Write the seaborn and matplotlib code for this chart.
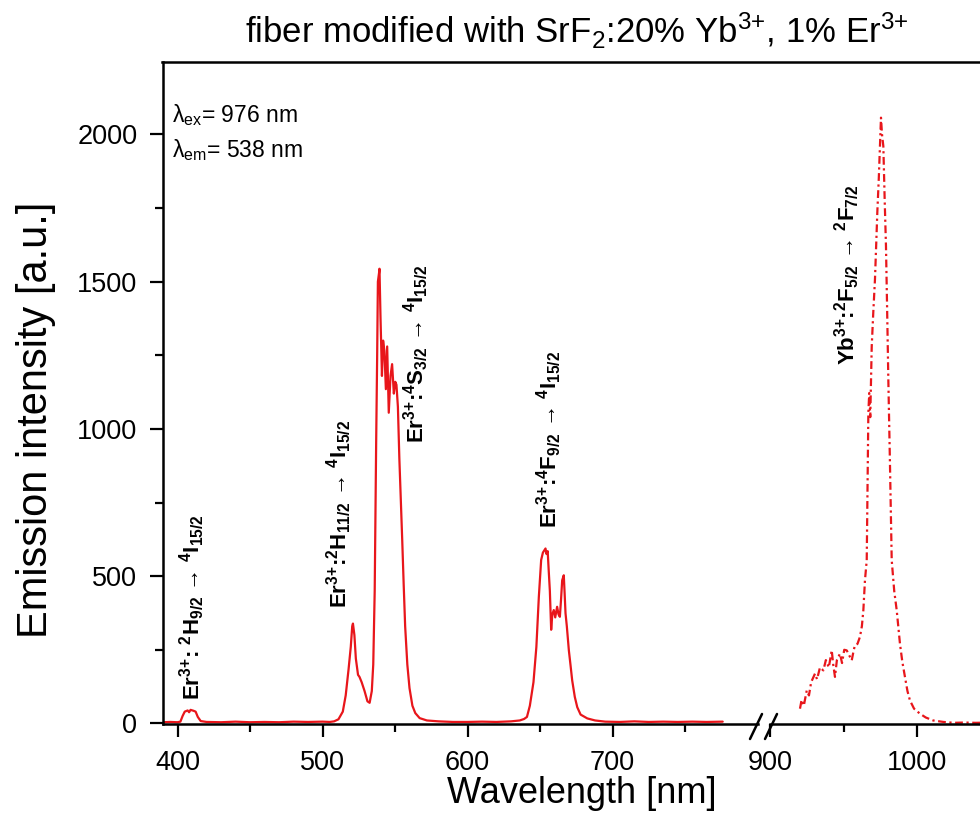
import numpy as np
import pandas as pd
import matplotlib
matplotlib.use("Agg")
import matplotlib.pyplot as plt
from matplotlib.lines import Line2D
from matplotlib.ticker import MultipleLocator, FixedLocator
import seaborn as sns

# ---------------- data ----------------
er_wavelength = [390, 395, 400, 402, 403.5, 405, 407, 408, 409, 411, 412.5, 414, 416, 420, 430, 440,
                 450, 460, 470, 480, 490, 500, 505, 508, 511, 514, 516, 518, 519.5, 520.5, 521, 522,
                 523, 524.5, 525.5, 527, 529, 531, 532.5, 534, 535, 536, 537, 537.7, 538.2, 539,
                 539.3, 540, 541, 541.8, 542.7, 543.7, 544.6, 545.7, 546.9, 548, 549.2, 550.2, 551,
                 552, 553, 554, 555, 556, 557, 558.5, 560, 562, 564, 567, 572, 580, 590, 600, 610,
                 620, 630, 636, 639, 641, 643, 645.5, 647.5, 649.2, 650.8, 652, 653.8, 654.5, 655.3,
                 656, 656.8, 657.7, 658.5, 659.5, 660.5, 661.8, 662.8, 663.7, 664.5, 665.3, 666.4,
                 667, 667.6, 668.5, 669.9, 671, 672.2, 674, 675.7, 678, 682.6, 688, 695, 705, 715,
                 725, 735, 745, 755, 765, 776]
er_intensity = [4, 5, 4, 6, 25, 40, 44, 38, 46, 43, 40, 22, 8, 5, 4, 6,
                4, 5, 4, 6, 5, 6, 5, 7, 14, 40, 95, 185, 260, 330, 339, 300,
                220, 165, 158, 140, 110, 75, 70, 110, 200, 450, 950, 1250, 1500, 1530,
                1544, 1380, 1180, 1300, 1265, 1135, 1280, 1055, 1180, 1220, 1120, 1160, 1150,
                1075, 900, 760, 620, 470, 330, 200, 120, 60, 35, 18, 10, 7, 5, 5, 6,
                5, 7, 10, 15, 22, 60, 140, 260, 430, 555, 580, 594, 575, 585,
                520, 450, 318, 370, 385, 360, 396, 370, 362, 420, 486, 503,
                440, 374, 330, 248, 200, 146, 90, 55, 30, 17, 10, 6, 5, 7,
                5, 6, 5, 6, 5, 6]

yb_wavelength = [920.4, 921.5, 923, 925, 926.5, 928, 930.6, 932, 934, 936.3, 938, 940, 942, 943,
                 944.2, 945.5, 947.6, 949, 950.5, 952.2, 954, 955.6, 957, 957.8, 959.5, 961.2,
                 962.5, 963.5, 964.6, 965.8, 966.9, 967.5, 968.2, 969.2, 970.3, 971.4, 972.2, 973,
                 974, 974.8, 975.5, 976.2, 977.1, 978, 978.9, 979.7, 980.5, 981.6, 982.8, 984.5,
                 986.2, 988.4, 990, 991.8, 993.5, 995.2, 998, 1002, 1006, 1011, 1018, 1025, 1032,
                 1040, 1050]
yb_intensity = [50, 80, 60, 112, 95, 140, 169, 150, 190, 180, 215, 190, 248, 200,
                158, 215, 237, 205, 250, 248, 230, 214, 250, 265, 270, 294,
                330, 384, 486, 554, 1053, 1122, 1040, 1280, 1400, 1507, 1620, 1735,
                1850, 1960, 2057, 2000, 1960, 1780, 1620, 1400, 1167, 884, 554, 450,
                384, 271, 210, 158, 110, 78, 50, 33, 20, 10, 5, 2, 3,
                2, 3]

x_major_left = [400, 500, 600, 700]
x_minor_left = [450, 550, 650, 750]
x_major_right = [900, 1000]
x_minor_right = [950, 1050]
y_major = [0, 500, 1000, 1500, 2000]

title_text = "fiber modified with SrF$_2$:20% Yb$^{3{+}}$, 1% Er$^{3{+}}$"
xlabel_text = "Wavelength [nm]"
ylabel_text = "Emission intensity [a.u.]"
ann_texts = ["Er$^{3{+}}$: $^{2}$H$_{9/2}$ \u2192 $^{4}$I$_{15/2}$",
             "Er$^{3{+}}$:$^{2}$H$_{11/2}$ \u2192 $^{4}$I$_{15/2}$",
             "Er$^{3{+}}$:$^{4}$S$_{3/2}$ \u2192 $^{4}$I$_{15/2}$",
             "Er$^{3{+}}$:$^{4}$F$_{9/2}$ \u2192 $^{4}$I$_{15/2}$",
             "Yb$^{3{+}}$:$^{2}$F$_{5/2}$ \u2192 $^{2}$F$_{7/2}$"]
ann_x = [415.2, 517.0, 569.7, 661.4, 957.8]
ann_y = [78, 391, 952, 663, 1218]
ann_axis = [0, 0, 0, 0, 1]

# ---------------- style ----------------
sns.set_style("ticks")
plt.rcParams["font.family"] = ["Liberation Sans", "DejaVu Sans"]
plt.rcParams["mathtext.default"] = "regular"
for k in ("text.color", "axes.labelcolor", "xtick.color", "ytick.color", "axes.edgecolor"):
    plt.rcParams[k] = "black"

W, H = 980, 836
fig = plt.figure(figsize=(W / 100, H / 100), dpi=100)

def fx(px):
    return px / W

def fy(py):
    return 1 - py / H

RED = "#e8161b"
ax_bottom, ax_top = 724, 62
ax1 = fig.add_axes([fx(163), fy(ax_bottom), fx(757.5) - fx(163), fy(ax_top) - fy(ax_bottom)])
ax2 = fig.add_axes([fx(770), fy(ax_bottom), fx(1000) - fx(770), fy(ax_top) - fy(ax_bottom)])

er_df = pd.DataFrame({"wl": er_wavelength, "I": er_intensity})
yb_df = pd.DataFrame({"wl": yb_wavelength, "I": yb_intensity})

sns.lineplot(data=er_df, x="wl", y="I", ax=ax1, color=RED, lw=1.6,
             estimator=None, sort=False)
sns.lineplot(data=yb_df, x="wl", y="I", ax=ax2, color=RED, lw=1.6,
             estimator=None, sort=False, linestyle=(0, (3.5, 1.6, 1.0, 1.6)))

ylim = (-2, 2246)
ax1.set_xlim(390, 800)
ax2.set_xlim(900, 900 + 230 / 1.47)
for ax in (ax1, ax2):
    ax.set_ylim(*ylim)
    ax.set_xlabel("")
    ax.set_ylabel("")
    ax.patch.set_alpha(0)
    for s in ax.spines.values():
        s.set_linewidth(1.8)
        s.set_color("black")
    ax.spines["top"].set_visible(False)

ax1.spines["right"].set_visible(False)
ax2.spines["left"].set_visible(False)
ax2.spines["right"].set_visible(False)

ax1.xaxis.set_major_locator(FixedLocator(x_major_left))
ax1.xaxis.set_minor_locator(FixedLocator(x_minor_left))
ax2.xaxis.set_major_locator(FixedLocator(x_major_right))
ax2.xaxis.set_minor_locator(FixedLocator(x_minor_right))
ax1.yaxis.set_major_locator(FixedLocator(y_major))
ax1.yaxis.set_minor_locator(MultipleLocator(250))
ax2.set_yticks([])
ax2.tick_params(axis="y", which="both", left=False, labelleft=False)

for ax in (ax1, ax2):
    ax.tick_params(axis="both", which="major", direction="out", length=9.5, width=1.6,
                   labelsize=19.5, pad=9, color="black", labelcolor="black")
    ax.tick_params(axis="both", which="minor", direction="out", length=5.5, width=1.6,
                   color="black")
    ax.tick_params(axis="x", which="both", top=False)
    ax.tick_params(axis="y", which="both", right=False)

# continuous top frame line across the whole width
fig.add_artist(Line2D([fx(162.4), 1.0], [fy(ax_top), fy(ax_top)], color="black", lw=1.8,
                      solid_capstyle="projecting"))
# break marks on the bottom axis
for x0 in (750, 765):
    fig.add_artist(Line2D([fx(x0), fx(x0 + 12)], [fy(739), fy(714)], color="black", lw=1.8))

# annotations
for t, x, y, a in zip(ann_texts, ann_x, ann_y, ann_axis):
    ax = ax1 if a == 0 else ax2
    ax.text(x, y, t, rotation=90, rotation_mode="anchor", ha="left", va="baseline",
            fontsize=16, fontweight="bold", color="black")

ax1.text(fx(172), fy(122), "\u03bb$_{ex}$= 976 nm", transform=fig.transFigure,
         fontsize=16.5, ha="left", va="baseline")
ax1.text(fx(172), fy(157), "\u03bb$_{em}$= 538 nm", transform=fig.transFigure,
         fontsize=16.5, ha="left", va="baseline")

fig.text(fx(577), fy(43), title_text, fontsize=25, ha="center", va="baseline")
fig.text(fx(582), fy(803), xlabel_text, fontsize=26, ha="center", va="baseline")
fig.text(fx(47), fy(420), ylabel_text, fontsize=30, ha="center", va="baseline",
         rotation=90, rotation_mode="anchor")

fig.savefig("out.png", dpi=100)
